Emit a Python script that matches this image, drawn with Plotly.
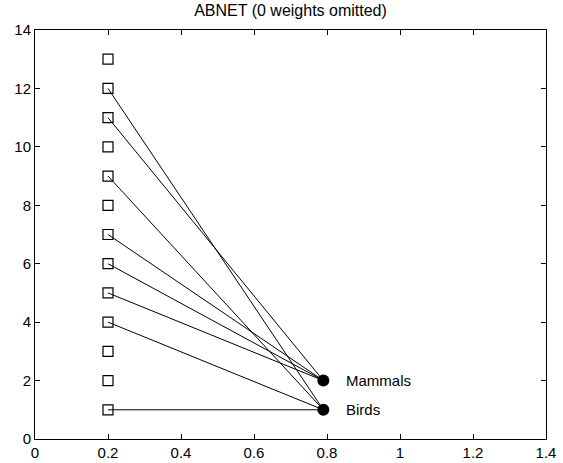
import plotly.graph_objects as go

input_x = 0.2
output_x = 0.79
input_nodes = list(range(1, 14))
output_names = ["Birds", "Mammals"]
output_y = [1, 2]
# connections: (input node, output node y)
conn_inputs = [12, 9, 4, 1, 11, 7, 6, 5]
conn_outputs = [1, 1, 1, 1, 2, 2, 2, 2]

xt = [0, 0.2, 0.4, 0.6, 0.8, 1, 1.2, 1.4]
xt_labels = ["0", "0.2", "0.4", "0.6", "0.8", "1", "1.2", "1.4"]
yt = [0, 2, 4, 6, 8, 10, 12, 14]

FONT = "Liberation Sans, Arial, sans-serif"

fig = go.Figure()

lx, ly = [], []
for i, o in zip(conn_inputs, conn_outputs):
    lx += [input_x, output_x, None]
    ly += [i, o, None]
fig.add_trace(go.Scatter(x=lx, y=ly, mode="lines",
                         line=dict(color="black", width=1), hoverinfo="skip"))

fig.add_trace(go.Scatter(x=[input_x] * len(input_nodes), y=input_nodes, mode="markers",
                         marker=dict(symbol="square-open", size=10, color="black",
                                     line=dict(width=1.2, color="black"))))

fig.add_trace(go.Scatter(x=[output_x] * len(output_y), y=output_y, mode="markers",
                         marker=dict(symbol="circle", size=12, color="black")))

for n, yv in zip(output_names, output_y):
    fig.add_annotation(x=output_x, y=yv, text=n, showarrow=False, xanchor="left",
                       yanchor="middle", xshift=21, font=dict(size=15, color="black", family=FONT))

fig.update_layout(
    width=563, height=463,
    margin=dict(l=35, r=17, t=30, b=24, autoexpand=False),
    paper_bgcolor="white", plot_bgcolor="white",
    showlegend=False,
    font=dict(family=FONT, size=15, color="black"),
    title=dict(text="ABNET (0 weights omitted)", x=0.5, xref="paper", xanchor="center",
               yref="container", y=1 - 10 / 463, yanchor="middle", font=dict(size=16)),
)
axis_common = dict(showgrid=False, zeroline=False, showline=True, linecolor="black",
                   linewidth=1, mirror="ticks", ticks="inside", ticklen=5,
                   tickcolor="black", tickwidth=1, automargin=False)
fig.update_xaxes(range=[0, 1.4], tickvals=xt, ticktext=xt_labels, **axis_common)
fig.update_yaxes(range=[0, 14], tickvals=yt, **axis_common)

fig.write_html("out.html", config={"displayModeBar": False},
               post_script="document.body.style.margin='0';")
